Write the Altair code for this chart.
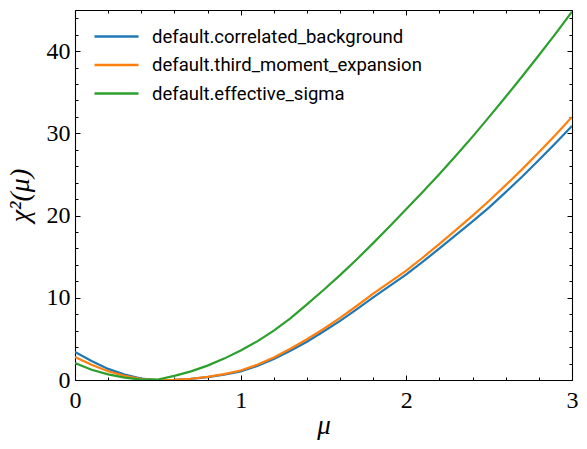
import altair as alt
import pandas as pd

# ---- data ----
mu = [0.0, 0.1, 0.2, 0.3, 0.4, 0.5, 0.6, 0.7, 0.8, 0.9,
      1.0, 1.1, 1.2, 1.3, 1.4, 1.5, 1.6, 1.7, 1.8, 1.9,
      2.0, 2.1, 2.2, 2.3, 2.4, 2.5, 2.6, 2.7, 2.8, 2.9, 3.0]

chi2_correlated_background = [3.4, 2.3, 1.35, 0.65, 0.18, 0.0, 0.03, 0.14, 0.35, 0.65,
                              1.05, 1.7, 2.55, 3.55, 4.65, 5.9, 7.2, 8.6, 10.05, 11.45,
                              12.85, 14.4, 16.0, 17.65, 19.3, 21.0, 22.85, 24.75, 26.75, 28.8, 30.9]

chi2_third_moment_expansion = [2.8, 1.85, 1.07, 0.5, 0.12, 0.0, 0.03, 0.15, 0.38, 0.72,
                               1.15, 1.85, 2.75, 3.8, 4.95, 6.2, 7.55, 9.0, 10.5, 11.9,
                               13.3, 14.9, 16.55, 18.25, 20.0, 21.8, 23.7, 25.65, 27.7, 29.8, 32.0]

chi2_effective_sigma = [2.05, 1.25, 0.68, 0.28, 0.04, 0.06, 0.5, 1.05, 1.75, 2.6,
                        3.6, 4.7, 6.0, 7.5, 9.2, 10.95, 12.75, 14.65, 16.65, 18.7,
                        20.8, 22.9, 25.05, 27.3, 29.6, 32.0, 34.45, 36.95, 39.5, 42.1, 44.8]

series = ["default.correlated_background",
          "default.third_moment_expansion",
          "default.effective_sigma"]
colors = ["#1f77b4", "#ff7f0e", "#2ca02c"]

x_major_ticks = [0, 1, 2, 3]
x_minor_ticks = [0.2, 0.4, 0.6, 0.8, 1.2, 1.4, 1.6, 1.8, 2.2, 2.4, 2.6, 2.8]
y_major_ticks = [0, 10, 20, 30, 40]
y_minor_ticks = [2, 4, 6, 8, 12, 14, 16, 18, 22, 24, 26, 28, 32, 34, 36, 38, 42, 44]

rows = []
for name, vals in zip(series, [chi2_correlated_background,
                               chi2_third_moment_expansion,
                               chi2_effective_sigma]):
    for m, v in zip(mu, vals):
        rows.append({"mu": m, "chi2": v, "series": name})
df = pd.DataFrame(rows)

SERIF = "Liberation Serif"
xs = alt.Scale(domain=[0, 3], nice=False, zero=False)
ys = alt.Scale(domain=[0, 45], nice=False, zero=False)


def tick_axis(orient, values, size, domain):
    return alt.Axis(orient=orient, values=values, labels=False, title="",
                    ticks=True, tickSize=alt.ExprRef(f"-{size}"),
                    tickColor="black", tickWidth=1, grid=False,
                    domain=domain, domainColor="black", domainWidth=1.1)


# axis that carries labels and titles (no ticks)
x_label_axis = alt.Axis(orient="bottom", values=x_major_ticks, ticks=False,
                        domain=False, grid=False, format="d",
                        labelFont=SERIF, labelFontSize=24, labelColor="black",
                        labelFlush=False, labelOverlap=False, labelPadding=8,
                        title="μ", titleFont=SERIF, titleFontSize=27,
                        titleFontStyle="italic", titleFontWeight="normal",
                        titleColor="black", titlePadding=0)
y_label_axis = alt.Axis(orient="left", values=y_major_ticks, ticks=False,
                        domain=False, grid=False, format="d",
                        labelFont=SERIF, labelFontSize=24, labelColor="black",
                        labelFlush=False, labelOverlap=False, labelPadding=5,
                        title="χ²(μ)", titleFont=SERIF, titleFontSize=28,
                        titleFontStyle="italic", titleFontWeight="normal",
                        titleColor="black", titlePadding=12)

lines = alt.Chart(df).mark_line(strokeWidth=2.2, clip=True).encode(
    x=alt.X("mu:Q", scale=xs, axis=x_label_axis),
    y=alt.Y("chi2:Q", scale=ys, axis=y_label_axis),
    color=alt.Color("series:N", sort=series,
                    scale=alt.Scale(domain=series, range=colors),
                    legend=alt.Legend(title="", orient="none",
                                      legendX=29, legendY=14,
                                      symbolType="M-2,0H2", symbolSize=484,
                                      symbolStrokeWidth=2.4, symbolFillColor="transparent",
                                      labelFont="Roboto", labelFontSize=18.5,
                                      labelColor="black", labelOffset=23,
                                      labelLimit=0,
                                      rowPadding=6.5, padding=0)),
    order=alt.Order("series:N"),
)


def ghost(xaxis, yaxis):
    return alt.Chart(df).mark_line(strokeOpacity=0).encode(
        x=alt.X("mu:Q", scale=xs, axis=xaxis),
        y=alt.Y("chi2:Q", scale=ys, axis=yaxis),
        detail="series:N",
    )


layers = [
    lines,
    ghost(tick_axis("bottom", x_major_ticks, 5, True),
          tick_axis("left", y_major_ticks, 5, True)),
    ghost(tick_axis("bottom", x_minor_ticks, 3, False),
          tick_axis("left", y_minor_ticks, 3, False)),
    ghost(tick_axis("top", x_major_ticks, 5, True),
          tick_axis("right", y_major_ticks, 5, True)),
    ghost(tick_axis("top", x_minor_ticks, 3, False),
          tick_axis("right", y_minor_ticks, 3, False)),
]

chart = alt.layer(*layers).resolve_axis(
    x="independent", y="independent"
).properties(
    width=497, height=370,
    autosize=alt.AutoSizeParams(type="none"),
    padding={"left": 75, "top": 10, "right": 15, "bottom": 69},
).configure_view(stroke=None).configure(background="white")

chart.save("out.html", embed_options={"renderer": "svg", "actions": False})
